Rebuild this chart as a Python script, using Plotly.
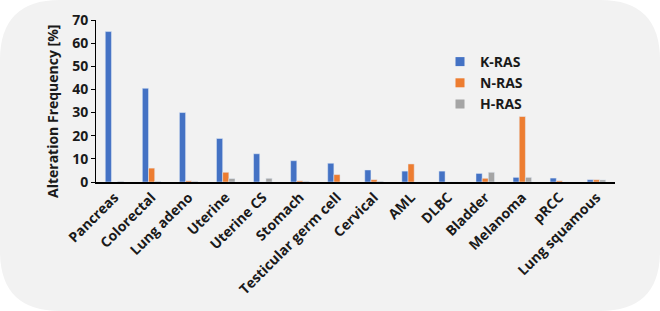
import plotly.graph_objects as go

categories = ["Pancreas", "Colorectal", "Lung adeno", "Uterine", "Uterine CS", "Stomach",
              "Testicular germ cell", "Cervical", "AML", "DLBC", "Bladder", "Melanoma",
              "pRCC", "Lung squamous"]
kras = [65.0, 40.5, 30.0, 18.8, 12.2, 9.2, 8.1, 5.2, 4.7, 4.7, 3.7, 2.0, 1.7, 1.0]
nras = [0.0, 6.0, 0.5, 4.2, 0.0, 0.5, 3.2, 1.0, 7.8, 0.0, 1.6, 28.3, 0.5, 1.0]
hras = [0.3, 0.3, 0.3, 1.5, 1.6, 0.3, 0.0, 0.3, 0.0, 0.0, 4.2, 2.0, 0.0, 0.9]
series_names = ["K-RAS", "N-RAS", "H-RAS"]
series_colors = ["#4472C4", "#ED7D31", "#A5A5A5"]
y_ticks = [0, 10, 20, 30, 40, 50, 60, 70]
y_title = "Alteration Frequency [%]"

W, H = 660, 311
L, R, T, B = 96, 45, 20, 129
pw, ph = W - L - R, H - T - B

def px(x):
    return (x - L) / pw

def py(y):
    return (H - B - y) / ph

FAM = "Open Sans, sans-serif"
fig = go.Figure()
for name, vals, col in zip(series_names, [kras, nras, hras], series_colors):
    fig.add_bar(name=name, x=categories, y=vals, marker_color=col, showlegend=False)
for name, col in zip(series_names, series_colors):
    fig.add_scatter(name=name, x=[None], y=[None], mode="markers",
                    marker=dict(symbol="square", size=9, color=col), showlegend=True)

# rounded background
r = 60
x0, x1, y0, y1 = 0, W, 0, H
path = (f"M {px(x0+r)},{py(y0)} L {px(x1-r)},{py(y0)} Q {px(x1)},{py(y0)} {px(x1)},{py(y0+r)} "
        f"L {px(x1)},{py(y1-r)} Q {px(x1)},{py(y1)} {px(x1-r)},{py(y1)} "
        f"L {px(x0+r)},{py(y1)} Q {px(x0)},{py(y1)} {px(x0)},{py(y1-r)} "
        f"L {px(x0)},{py(y0+r)} Q {px(x0)},{py(y0)} {px(x0+r)},{py(y0)} Z")
fig.add_shape(type="path", path=path, xref="paper", yref="paper",
              fillcolor="#F2F2F2", line_width=0, layer="below")

fig.add_annotation(text=y_title, textangle=-90, xref="paper", yref="paper",
                   x=px(52), y=py(112), xanchor="center", yanchor="middle", showarrow=False,
                   font=dict(size=14, weight="bold", family=FAM, color="#1a1a1a"))

font = dict(family=FAM, size=14, color="#1a1a1a", weight="bold")
fig.update_layout(
    width=W, height=H,
    margin=dict(l=L, r=R, t=T, b=B, autoexpand=False),
    paper_bgcolor="white", plot_bgcolor="rgba(0,0,0,0)",
    barmode="group", bargap=0.5, bargroupgap=0,
    font=font,
    showlegend=True,
    legend=dict(x=px(440), y=py(46), xanchor="left", yanchor="top",
                bgcolor="rgba(0,0,0,0)", font=dict(size=14, weight="bold", family=FAM, color="#1a1a1a"),
                itemwidth=30, tracegroupgap=0),
)
fig.update_xaxes(tickangle=-45, showline=True, linecolor="#000000", linewidth=1.5,
                 ticks="", showgrid=False, tickfont=font, range=[-0.5, 13.5], automargin=False)
fig.update_yaxes(range=[0, 70], tickvals=y_ticks, showline=True, linecolor="#000000",
                 linewidth=1, ticks="outside", ticklen=4, tickcolor="#000000",
                 showgrid=False, zeroline=False, automargin=False,
                 tickfont=dict(size=14, weight="bold", family=FAM, color="#1a1a1a"))

fig.write_html("out.html", config={"displayModeBar": False},
               post_script="document.body.style.margin='0';document.body.style.padding='0';")
